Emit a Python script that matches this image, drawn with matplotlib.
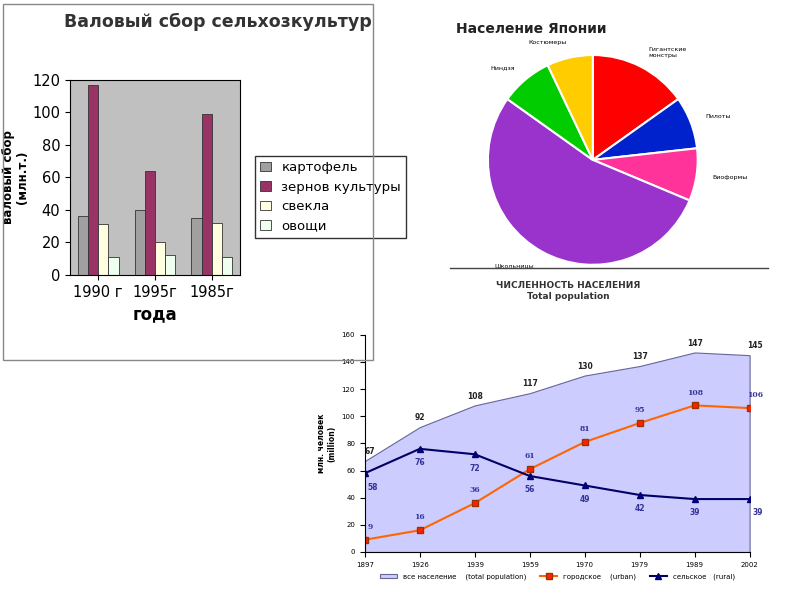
import numpy as np
import matplotlib.pyplot as plt
from matplotlib.patches import Rectangle

# bar chart data
years_bar = ["1990 г", "1995г", "1985г"]
crops = ["картофель", "зернов культуры", "свекла", "овощи"]
crop_vals = [[36, 40, 35], [117, 64, 99], [31, 20, 32], [11, 12, 11]]
crop_colors = ["#a0a0a0", "#993366", "#ffffe0", "#eefff0"]

# pie data
pie_labels = ["Гигантские\nмонстры", "Пилоты", "Биоформы", "Школьницы", "Ниндзя", "Костюмеры"]
pie_vals = [15, 8, 8, 53, 8, 7]
pie_colors = ["#ff0000", "#0022cc", "#ff3399", "#9933cc", "#00cc00", "#ffcc00"]

# population data
pop_years = ["1897", "1926", "1939", "1959", "1970", "1979", "1989", "2002"]
total = [67, 92, 108, 117, 130, 137, 147, 145]
urban = [9, 16, 36, 61, 81, 95, 108, 106]
rural = [58, 76, 72, 56, 49, 42, 39, 39]

fig = plt.figure(figsize=(8, 6), dpi=100)

# --- bar chart panel
fig.patches.append(Rectangle((0.004, 0.4), 0.462, 0.594, transform=fig.transFigure,
                             fill=False, edgecolor="#888888", lw=1))
fig.text(0.08, 0.955, "Валовый сбор сельхозкультур", fontsize=12.5, fontweight="bold", color="#333333")
ax1 = fig.add_axes([0.0875, 0.542, 0.2125, 0.325])
ax1.set_facecolor("#c0c0c0")
x = np.arange(len(years_bar))
w = 0.18
for i, (name, vals) in enumerate(zip(crops, crop_vals)):
    ax1.bar(x + (i - 1.5) * w, vals, w, color=crop_colors[i], edgecolor="#333333", lw=0.6, label=name)
ax1.set_ylim(0, 120)
ax1.set_yticks(range(0, 121, 20))
ax1.set_xticks(x)
ax1.set_xticklabels(years_bar, fontsize=10.5)
ax1.tick_params(labelsize=10.5)
ax1.set_xlabel("года", fontsize=12, fontweight="bold")
ax1.set_ylabel("валовый сбор\n(млн.т.)", fontsize=8.5, fontweight="bold", linespacing=1.1)
ax1.yaxis.set_label_coords(-0.24, 0.5)
ax1.legend(loc="center left", bbox_to_anchor=(1.05, 0.4), fontsize=9.5, frameon=True,
           fancybox=False, edgecolor="black", handlelength=0.8)

# --- pie
fig.text(0.57, 0.945, "Население Японии", fontsize=10, fontweight="bold", color="#222222")
ax2 = fig.add_axes([0.577, 0.515, 0.328, 0.437])
wedges, texts = ax2.pie(pie_vals, colors=pie_colors, startangle=90, counterclock=False,
                        labels=pie_labels, labeldistance=1.15, textprops={"fontsize": 4.5},
                        wedgeprops={"edgecolor": "white", "linewidth": 1.5})
ax2.set_aspect("equal")
fig.patches.append(Rectangle((0.56, 0.53), 0.4, 0.023, transform=fig.transFigure,
                             color="white", zorder=5))
fig.lines.append(plt.Line2D([0.563, 0.96], [0.553, 0.553], transform=fig.transFigure,
                            color="#444444", lw=1, zorder=6))

# --- population chart
fig.text(0.71, 0.515, "ЧИСЛЕННОСТЬ НАСЕЛЕНИЯ\nTotal population", fontsize=6.5,
         fontweight="bold", ha="center", va="center", color="#333333", zorder=10)
ax3 = fig.add_axes([0.456, 0.08, 0.481, 0.362])
xp = np.arange(len(pop_years))
ax3.fill_between(xp, total, color="#ccccff", edgecolor="#666699", lw=0.8, label="все население    (total population)")
ax3.plot(xp, urban, color="#ff6600", marker="s", mfc="#ff2200", mec="#993300", ms=5, lw=1.5,
         label="городское    (urban)")
ax3.plot(xp, rural, color="#000066", marker="^", mfc="#000099", ms=5, lw=1.5,
         label="сельское   (rural)")
for i in xp:
    ax3.text(i + (0.1 if i in (0, 7) else 0), total[i] + 5, str(total[i]), fontsize=5.5,
             fontweight="bold", ha="center", color="#222222", clip_on=False)
    ax3.text(i + (0.1 if i in (0, 7) else 0), urban[i] + 8, str(urban[i]), fontsize=5.5,
             fontweight="bold", ha="center", color="#333399", family="serif")
    ax3.text(i + (0.15 if i in (0, 7) else 0), rural[i] - 12, str(rural[i]), fontsize=5.5,
             fontweight="bold", ha="center", color="#333399")
ax3.set_xlim(0, len(pop_years) - 1)
ax3.set_ylim(0, 160)
ax3.set_yticks(range(0, 161, 20))
ax3.set_xticks(xp)
ax3.set_xticklabels(pop_years)
ax3.tick_params(labelsize=5)
for s in ["top", "right"]:
    ax3.spines[s].set_visible(False)
ax3.set_ylabel("млн. человек\n(million)", fontsize=5.5, fontweight="bold")
ax3.legend(loc="upper center", bbox_to_anchor=(0.5, -0.07), ncol=3, fontsize=5,
           frameon=False, handlelength=2.5)

fig.savefig("out.png", dpi=100)
